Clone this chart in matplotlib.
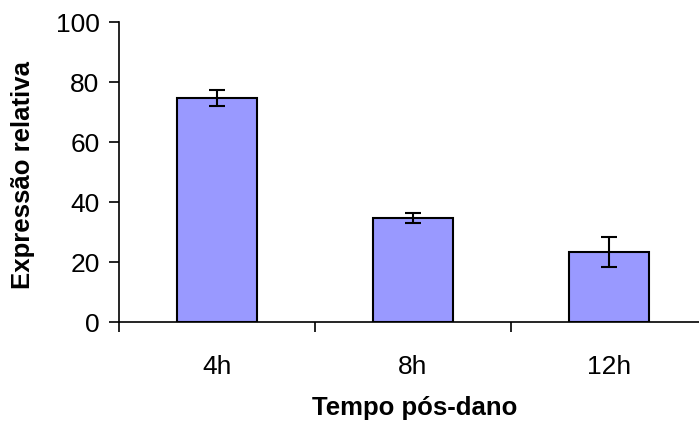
import numpy as np
import matplotlib
matplotlib.use('Agg')
import matplotlib.pyplot as plt

categorias = ['4h', '8h', '12h']
expressao = [74.7, 34.7, 23.4]
erro = [2.7, 1.7, 5.0]
yticks = [0, 20, 40, 60, 80, 100]

plt.rcParams['font.family'] = ['Liberation Sans', 'DejaVu Sans']

W, H = 699, 421
fig = plt.figure(figsize=(W / 100, H / 100), dpi=100)
# area do grafico em pixels (esquerda, baixo, largura, altura)
ax = fig.add_axes([119 / W, (H - 322) / H, 588 / W, 300 / H])

x = np.arange(len(categorias)) + 0.5
ax.bar(x, expressao, width=0.41, color='#9999FF', edgecolor='black', linewidth=1.5, zorder=2)
ax.errorbar(x, expressao, yerr=erro, fmt='none', ecolor='black', elinewidth=1.5,
            capsize=5.5, capthick=1.5, zorder=3)

ax.set_xlim(0, len(categorias))
ax.set_ylim(0, 100)
ax.set_yticks(yticks)
ax.set_xticks(x)
ax.set_xticklabels(categorias)
ax.set_xticks(np.arange(len(categorias) + 1), minor=True)

for s in ['top', 'right']:
    ax.spines[s].set_visible(False)
ax.spines['left'].set_linewidth(1.2)
ax.spines['bottom'].set_linewidth(1.2)

ax.tick_params(axis='y', direction='out', length=7, width=1.2, pad=7, labelsize=19)
ax.tick_params(axis='x', which='major', length=0, pad=24, labelsize=19)
ax.tick_params(axis='x', which='minor', direction='out', length=7, width=1.2)

fig.text(415 / W, 1 - 408 / H, 'Tempo pós-dano', ha='center', va='center',
         fontsize=18.5, fontweight='bold')
fig.text(23 / W, 1 - 175 / H, 'Expressão relativa', ha='center', va='center',
         rotation=90, fontsize=18.5, fontweight='bold')

fig.savefig('out.png', dpi=100)
